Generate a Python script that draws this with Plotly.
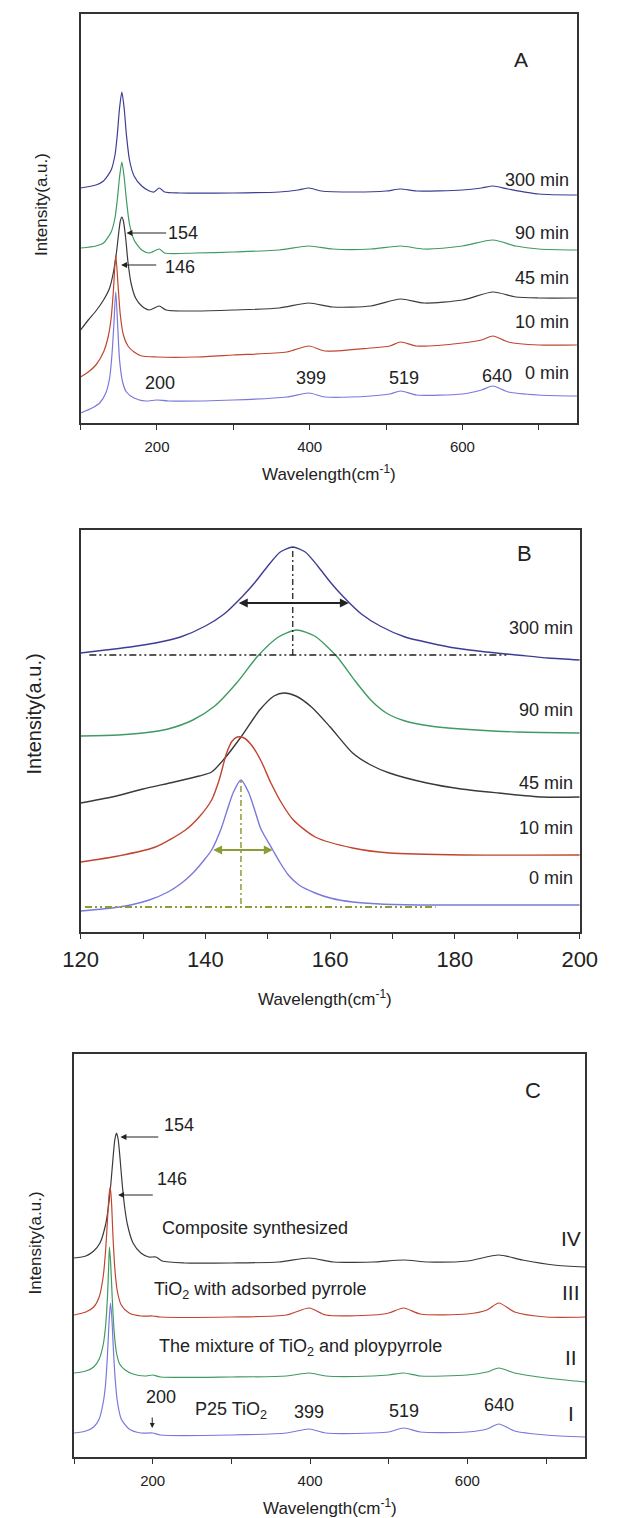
import plotly.graph_objects as go

# ---------------- Panel A data (wavenumber, intensity a.u.) ----------------
a_x_300 = [100, 120, 130, 140, 145, 148, 151, 154, 157, 160, 164, 170, 180, 190, 196, 203, 210, 230, 300, 360, 385, 399, 415, 460, 500, 519, 540, 600, 625, 640, 660, 700, 750]
a_y_300 = [235, 238, 242, 253, 268, 288, 315, 331, 315, 288, 263, 247, 237, 232, 231, 235, 231, 230, 230, 231, 233, 235, 232, 231, 232, 234, 232, 233, 235, 237, 234, 229, 228]

a_x_90 = [100, 120, 130, 140, 145, 148, 151, 154, 157, 160, 164, 170, 180, 190, 203, 210, 250, 300, 360, 399, 430, 480, 519, 550, 600, 640, 670, 700, 750]
a_y_90 = [175, 177, 180, 191, 205, 223, 246, 261, 246, 223, 199, 183, 173, 170, 174, 170, 170, 171, 173, 177, 174, 174, 177, 174, 177, 183, 177, 174, 173]

a_x_45 = [100, 110, 120, 130, 138, 143, 147, 150, 152, 154, 156, 159, 162, 166, 172, 180, 190, 203, 212, 250, 300, 360, 399, 430, 480, 519, 550, 600, 640, 670, 700, 750]
a_y_45 = [93, 103, 112, 123, 135, 151, 171, 191, 202, 206, 202, 185, 161, 140, 125, 117, 113, 117, 113, 112, 113, 115, 120, 116, 117, 124, 120, 123, 131, 126, 125, 125]

a_x_10 = [100, 110, 120, 130, 136, 140, 143, 146, 149, 152, 156, 162, 170, 180, 200, 250, 300, 370, 399, 420, 480, 505, 519, 540, 600, 625, 640, 660, 700, 750]
a_y_10 = [46, 51, 58, 71, 86, 105, 133, 168, 138, 108, 88, 77, 71, 67, 66, 66, 68, 71, 77, 72, 75, 77, 81, 77, 80, 83, 87, 81, 78, 78]

a_x_0 = [100, 115, 125, 133, 138, 141, 143.5, 146, 148.5, 151, 155, 160, 170, 185, 200, 215, 300, 370, 399, 420, 480, 505, 519, 540, 600, 625, 640, 660, 700, 750]
a_y_0 = [10, 15, 20, 30, 45, 68, 98, 131, 98, 63, 41, 31, 25, 22, 23, 22, 23, 26, 30, 26, 27, 29, 32, 28, 29, 33, 37, 31, 28, 27]

# ---------------- Panel B data ----------------
b_x_300 = [120, 124, 128, 132, 136, 140, 143, 146, 148, 150, 152, 154, 156, 158, 160, 162, 165, 168, 172, 176, 180, 185, 190, 195, 200]
b_y_300 = [279, 282, 285, 289, 295, 306, 318, 336, 350, 366, 380, 385, 380, 366, 350, 336, 318, 306, 295, 289, 284, 280, 277, 274, 272]

b_x_90 = [120, 126, 130, 134, 138, 141.5, 145, 148.4, 151.7, 154.6, 157.5, 161, 164, 166.5, 169, 172, 176, 181, 190, 200]
b_y_90 = [196, 197, 199, 203, 212, 226, 249, 276, 295, 302, 296, 276, 251, 232, 219, 211, 206, 203, 200, 199]

b_x_45 = [120, 125, 130, 135, 139, 141, 143, 145.7, 148.7, 151, 152.6, 154.5, 157, 160, 163.6, 166.5, 169.5, 175.5, 181, 187, 194, 200]
b_y_45 = [129, 135, 143, 150, 156, 160, 173, 195, 222, 236, 239, 236, 225, 205, 179, 167, 159, 149, 143, 139, 135, 135]

b_x_10 = [120, 126, 132, 136.8, 139, 141, 142.2, 143.4, 144.3, 145.1, 146.2, 147.5, 149, 150.5, 152.3, 154.1, 157.6, 163.6, 169.5, 181.4, 200]
b_y_10 = [70, 76, 85, 102, 115, 132, 152, 179, 191, 195, 194, 186, 170, 149, 128, 112, 95, 84, 79, 77, 77]

b_x_0 = [120, 125, 128, 131, 134, 136.2, 138, 139.8, 141, 142.5, 143.5, 144.5, 145.7, 146.9, 147.9, 148.9, 150.8, 152, 153.3, 155, 157.6, 160, 163.6, 168, 175.5, 200]
b_y_0 = [21, 24, 27, 32, 40, 49, 59, 72, 82, 103, 122, 140, 152, 140, 122, 103, 82, 69, 57, 47, 39, 34, 30, 28, 27, 27]

# ---------------- Panel C data ----------------
c_x_iv = [100, 115, 125, 133, 140, 144, 147, 150, 152, 154, 156, 158, 161, 164, 168, 175, 185, 195, 204, 212, 240, 300, 360, 399, 430, 480, 519, 550, 600, 640, 670, 710, 750]
c_y_iv = [199, 201, 206, 214, 232, 252, 275, 303, 318, 324, 318, 303, 275, 252, 232, 214, 204, 200, 200, 196, 194, 194, 195, 199, 195, 195, 197, 195, 196, 202, 197, 192, 190]

c_x_iii = [100, 115, 125, 132, 137, 140, 142.5, 144.5, 146, 147.5, 149.5, 152, 155, 160, 170, 185, 200, 210, 300, 370, 399, 420, 480, 500, 519, 540, 600, 625, 640, 660, 700, 750]
c_y_iii = [142, 145, 150, 160, 180, 205, 237, 262, 270, 257, 221, 187, 166, 152, 144, 141, 141, 140, 140, 142, 149, 142, 142, 144, 149, 143, 143, 147, 154, 145, 140, 140]

c_x_ii = [100, 115, 125, 132, 137, 140, 142.5, 144, 145, 146.5, 148.5, 151, 154, 158, 165, 175, 190, 200, 210, 300, 370, 399, 420, 480, 500, 519, 540, 600, 625, 640, 660, 700, 750]
c_y_ii = [84, 86, 90, 98, 112, 130, 160, 190, 210, 195, 160, 125, 104, 93, 87, 83, 81, 82, 80, 80, 81, 84, 81, 81, 82, 84, 81, 82, 85, 89, 84, 79, 75]

c_x_i = [100, 115, 125, 132, 137, 140, 142.5, 144.5, 146.4, 148, 150, 152.5, 155, 160, 170, 185, 200, 210, 300, 370, 399, 420, 480, 500, 519, 540, 600, 625, 640, 660, 700, 750]
c_y_i = [24, 26, 30, 38, 54, 72, 102, 135, 154, 140, 108, 76, 56, 38, 28, 24, 24, 22, 22, 24, 28, 24, 24, 25, 29, 25, 25, 28, 33, 26, 22, 20]

# labels
a_series_labels = ["300 min", "90 min", "45 min", "10 min", "0 min"]
a_label_y = [243, 190, 145, 101, 50]
a_peak_labels = ["200", "399", "519", "640"]
a_peak_x = [204, 402, 524, 645]
a_peak_y = [40, 45, 45, 47]

b_series_labels = ["300 min", "90 min", "45 min", "10 min", "0 min"]
b_label_y = [304, 222, 149, 104, 54]

c_series_roman = ["IV", "III", "II", "I"]
c_roman_y = [219, 165, 100, 44]
c_series_names = ["Composite synthesized", "TiO<sub>2</sub> with adsorbed pyrrole",
                  "The mixture of TiO<sub>2</sub> and ploypyrrole"]
c_name_x = [209, 199, 206]
c_name_y = [229, 167, 110]
c_peak_labels = ["200", "P25 TiO<sub>2</sub>", "399", "519", "640"]
c_peak_x = [210, 299, 399, 520, 640]
c_peak_y = [60, 47, 45, 46, 52]

COL_300 = "#3d3d96"
COL_90 = "#3f9a63"
COL_45 = "#3a3a3a"
COL_10 = "#c0452f"
COL_0 = "#7a78dc"
OLIVE = "#8d9c34"
FONT = "Liberation Sans, Arial, sans-serif"

W, H = 618, 1518
OFF = 8  # default page body margin of the written html

def px_x(p):
    return (p - OFF) / W

def px_y(p):
    return 1 - (p - OFF) / H

fig = go.Figure()

def add_line(x, y, color, xa, ya, width=1.2):
    fig.add_trace(go.Scatter(x=x, y=y, mode="lines", xaxis=xa, yaxis=ya,
                             line=dict(color=color, width=width, shape="spline", smoothing=0.7),
                             showlegend=False, hoverinfo="skip"))

# Panel A
add_line(a_x_300, a_y_300, COL_300, "x", "y")
add_line(a_x_90, a_y_90, COL_90, "x", "y")
add_line(a_x_45, a_y_45, COL_45, "x", "y")
add_line(a_x_10, a_y_10, COL_10, "x", "y")
add_line(a_x_0, a_y_0, COL_0, "x", "y")
# Panel B
add_line(b_x_300, b_y_300, COL_300, "x2", "y2", 1.4)
add_line(b_x_90, b_y_90, COL_90, "x2", "y2", 1.4)
add_line(b_x_45, b_y_45, COL_45, "x2", "y2", 1.4)
add_line(b_x_10, b_y_10, COL_10, "x2", "y2", 1.4)
add_line(b_x_0, b_y_0, COL_0, "x2", "y2", 1.4)
# Panel C
add_line(c_x_iv, c_y_iv, COL_45, "x3", "y3")
add_line(c_x_iii, c_y_iii, COL_10, "x3", "y3")
add_line(c_x_ii, c_y_ii, COL_90, "x3", "y3")
add_line(c_x_i, c_y_i, COL_0, "x3", "y3")

axis_common = dict(showline=True, mirror=True, linecolor="#333333", linewidth=1.5,
                   showgrid=False, zeroline=False)

def xaxis(domain, rng, dtick, minor_dtick, fsize, anchor, standoff):
    return dict(axis_common, domain=domain, range=rng, anchor=anchor,
                tick0=0, dtick=dtick, ticks="outside", ticklen=5, tickwidth=1,
                tickcolor="#333333", ticklabelstandoff=standoff,
                tickfont=dict(family=FONT, size=fsize, color="#222222"),
                minor=dict(dtick=minor_dtick, tick0=0, ticks="outside", ticklen=5,
                           tickwidth=1, tickcolor="#333333"))

def yaxis(domain, rng, anchor):
    return dict(axis_common, domain=domain, range=rng, anchor=anchor,
                showticklabels=False, ticks="")

fig.update_layout(
    width=W, height=H, margin=dict(l=0, r=0, t=0, b=0),
    paper_bgcolor="white", plot_bgcolor="white",
    font=dict(family=FONT, color="#222222"),
    xaxis=xaxis([px_x(66), px_x(593)], [100, 750], 200, 100, 15, "y", 4),
    yaxis=yaxis([px_y(423), px_y(14)], [0, 409], "x"),
    xaxis2=xaxis([px_x(66), px_x(596)], [120, 200], 20, 10, 22, "y2", 2),
    yaxis2=yaxis([px_y(932), px_y(530)], [0, 402], "x2"),
    xaxis3=xaxis([px_x(59), px_x(602)], [100, 750], 200, 100, 15, "y3", 4),
    yaxis3=yaxis([px_y(1457), px_y(1054)], [0, 403], "x3"),
)

ann = []

def txt(text, x, y, xref, yref, size=18, xanchor="center", angle=0, color="#222222"):
    ann.append(dict(text=text, x=x, y=y, xref=xref, yref=yref, showarrow=False,
                    xanchor=xanchor, yanchor="middle", textangle=angle,
                    font=dict(family=FONT, size=size, color=color)))

def arrow(x0, y0, x1, y1, xr, yr, color="#222222", side="end", width=1.2):
    ann.append(dict(text="", x=x1, y=y1, ax=x0, ay=y0, xref=xr, yref=yr,
                    axref=xr, ayref=yr, showarrow=True, arrowhead=2, arrowsize=1,
                    arrowwidth=width, arrowcolor=color, arrowside=side, standoff=0,
                    startstandoff=0, startarrowhead=2, startarrowsize=1,
                    font=dict(size=12)))

# axis titles
WL = "Wavelength(cm<sup>-1</sup>)"
IN = "Intensity(a.u.)"
txt(WL, px_x(330), px_y(473), "paper", "paper", 17)
txt(IN, px_x(24), px_y(205), "paper", "paper", 17, angle=-90)
txt(WL, px_x(326), px_y(998), "paper", "paper", 17)
txt(IN, px_x(16), px_y(714), "paper", "paper", 20, angle=-90)
txt(WL, px_x(331), px_y(1507), "paper", "paper", 17)
txt(IN, px_x(18), px_y(1243), "paper", "paper", 17, angle=-90)

# Panel A
txt("A", 677, 363, "x", "y", 21)
for lab, yy in zip(a_series_labels, a_label_y):
    txt(lab, 742, yy, "x", "y", 18, xanchor="right")
for lab, xx, yy in zip(a_peak_labels, a_peak_x, a_peak_y):
    txt(lab, xx, yy, "x", "y", 18)
txt("154", 234, 190, "x", "y", 18)
arrow(214, 190, 160, 190, "x", "y")
txt("146", 230, 156, "x", "y", 18)
arrow(201, 158, 153, 158, "x", "y")

# Panel B
txt("B", 191.2, 379, "x2", "y2", 22)
for lab, yy in zip(b_series_labels, b_label_y):
    txt(lab, 199.3, yy, "x2", "y2", 18, xanchor="right")
shapes = []
def seg(x0, y0, x1, y1, xr, yr, color, dash, width=1.3):
    shapes.append(dict(type="line", x0=x0, y0=y0, x1=x1, y1=y1, xref=xr, yref=yr,
                       line=dict(color=color, width=width, dash=dash)))
seg(154, 277, 154, 385, "x2", "y2", "#222222", "6px,3px,2px,3px")
seg(121.4, 277, 188.6, 277, "x2", "y2", "#222222", "7px,3px,2px,3px,2px,3px", 1.5)
arrow(145.1, 329, 163.0, 329, "x2", "y2", "#222222", "end+start", 1.8)
seg(145.7, 28, 145.7, 152, "x2", "y2", OLIVE, "6px,3px,2px,3px", 1.5)
seg(120.7, 25, 176.9, 25, "x2", "y2", OLIVE, "7px,3px,2px,3px,2px,3px", 2)
arrow(141.0, 82, 150.8, 82, "x2", "y2", OLIVE, "end+start", 1.8)

# Panel C
txt("C", 683, 367, "x3", "y3", 22)
for lab, yy in zip(c_series_roman, c_roman_y):
    txt(lab, 732, yy, "x3", "y3", 21)
for lab, xx, yy in zip(c_series_names, c_name_x, c_name_y):
    txt(lab, xx, yy, "x3", "y3", 18, xanchor="left")
for lab, xx, yy in zip(c_peak_labels, c_peak_x, c_peak_y):
    txt(lab, xx, yy, "x3", "y3", 18)
txt("154", 234, 332, "x3", "y3", 18)
arrow(209, 320, 159, 320, "x3", "y3")
txt("146", 224, 278, "x3", "y3", 18)
arrow(202, 262, 156, 262, "x3", "y3")
arrow(199.4, 41, 199.4, 29, "x3", "y3", "#222222", "end", 1.0)

fig.update_layout(annotations=ann, shapes=shapes)
fig.write_html("out.html")
